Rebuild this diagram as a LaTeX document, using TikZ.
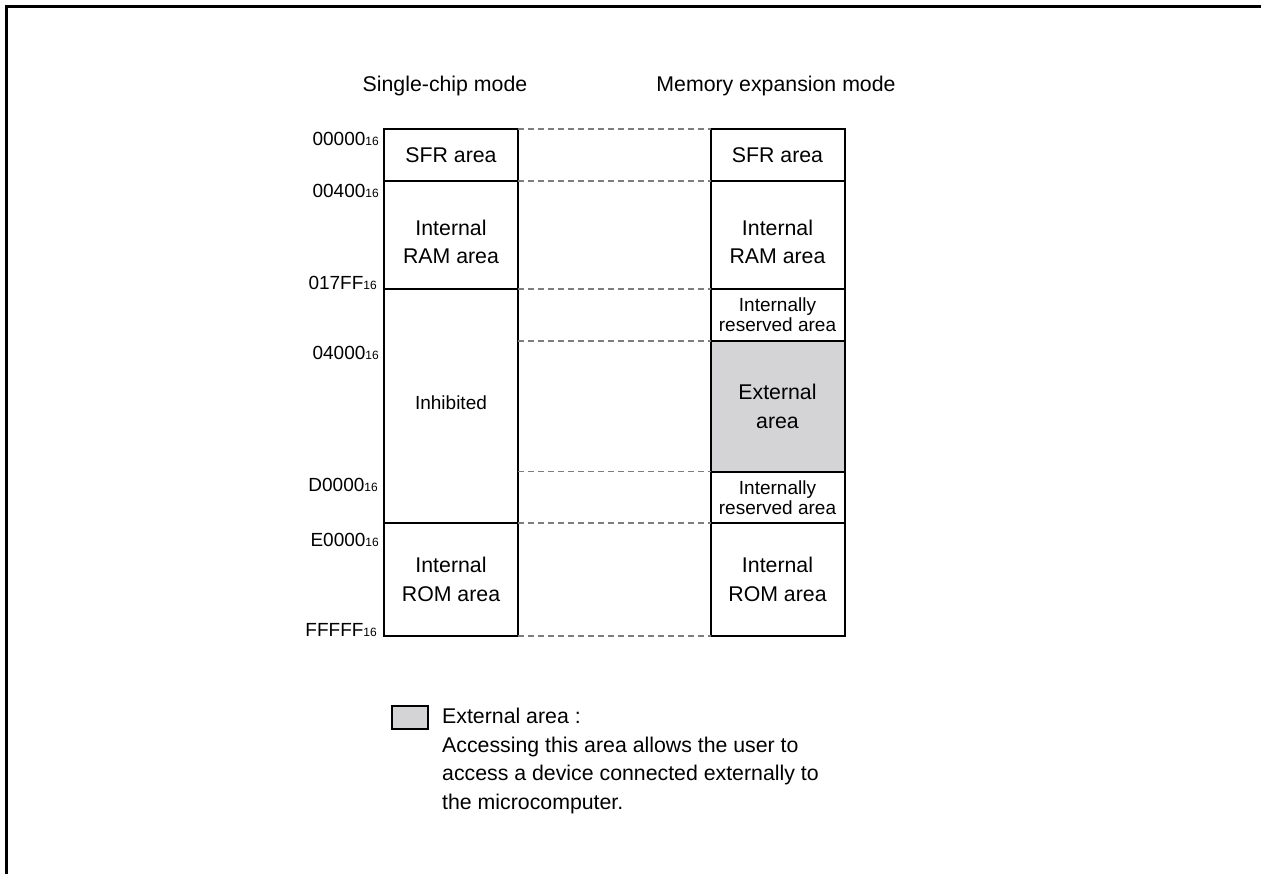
\documentclass[tikz,border=0pt]{standalone}
\usepackage{fontspec}
\setmainfont{Liberation Sans}
\usetikzlibrary{positioning}
\definecolor{mGray}{RGB}{212,212,214}
\definecolor{mDash}{RGB}{125,125,125}
\newcommand{\bigtxt}{\fontsize{21.3}{28.5}\selectfont}
\newcommand{\smalltxt}{\fontsize{19}{20}\selectfont}
\newcommand{\Addr}[1]{{\fontsize{19}{19}\selectfont #1}{\fontsize{12}{12}\selectfont 16}}
\tikzset{
  area/.style={rectangle, draw=black, line width=2pt, outer sep=0pt, inner sep=2pt,
               minimum width=134pt, align=center, font=\bigtxt},
  rsv/.style={area, font=\smalltxt},
  extarea/.style={area, fill=mGray},
  inlabel/.style={label={[font=\bigtxt, align=center, yshift=#1]center:Internal\\RAM area}},
  addr/.style={anchor=east, inner sep=0pt},
  title/.style={anchor=base, inner sep=0pt, font=\bigtxt},
  note/.style={anchor=north west, inner sep=0pt, align=left, font=\bigtxt},
  bound/.style={draw=mDash, line width=1.1pt, dash pattern=on 6pt off 4pt},
}
\begin{document}
\begin{tikzpicture}[x=1pt, y=-1pt]
  \useasboundingbox (0,0) rectangle (1261,874);
  \draw[line width=3pt] (6,874) -- (6,6.5) -- (1261,6.5);
  % headings
  \node[title] (tsingle) at (445,92) {Single-chip mode};
  \node[title] (texpand) at (776,92) {Memory expansion mode};
  % single-chip map
  \node[area, minimum height=52pt, anchor=north west] (lsfr) at (384,129) {SFR area};
  \node[area, minimum height=108pt, below=0pt of lsfr, inlabel=-7pt] (lram) {};
  \node[rsv, minimum height=234pt, below=0pt of lram] (linh) {\raisebox{6pt}{Inhibited}};
  \node[area, minimum height=113pt, below=0pt of linh] (lrom) {Internal\\ROM area};
  % memory expansion map
  \node[area, minimum height=52pt, anchor=north west] (rsfr) at (710.5,129) {SFR area};
  \node[area, minimum height=108pt, below=0pt of rsfr, inlabel=-7pt] (rram) {};
  \node[rsv, minimum height=52pt, below=0pt of rram] (rres1) {Internally\\reserved area};
  \node[extarea, minimum height=130.5pt, below=0pt of rres1] (rext) {External\\area};
  \node[rsv, minimum height=51.5pt, below=0pt of rext] (rres2) {Internally\\reserved area};
  \node[area, minimum height=113pt, below=0pt of rres2] (rrom) {Internal\\ROM area};
  % boundaries
  \foreach \a/\b in {lsfr.north east/rsfr.north west, lram.north east/rram.north west,
                     linh.north east/rres1.north west, lrom.north east/rrom.north west,
                     lrom.south east/rrom.south west}
    \draw[bound] (\a) -- (\b);
  \draw[bound] (rext.north west -| linh.east) -- (rext.north west);
  \draw[bound] (rres2.north west -| linh.east) -- (rres2.north west);
  % addresses
  \node[addr] (a00000) at (379,139) {\Addr{00000}};
  \node[addr] (a00400) at (379,191) {\Addr{00400}};
  \node[addr] (a017ff) at (377,283) {\Addr{017FF}};
  \node[addr] (a04000) at (379,353) {\Addr{04000}};
  \node[addr] (ad0000) at (378,485) {\Addr{D0000}};
  \node[addr] (ae0000) at (379,540) {\Addr{E0000}};
  \node[addr] (afffff) at (377,630) {\Addr{FFFFF}};
  % legend
  \node[extarea, minimum width=36pt, minimum height=23pt] (lkey) at (410,717) {};
  \node[note] (lnote) at (442,708) {External area :\\
    Accessing this area allows the user to\\
    access a device connected externally to\\
    the microcomputer.};
\end{tikzpicture}
\end{document}
